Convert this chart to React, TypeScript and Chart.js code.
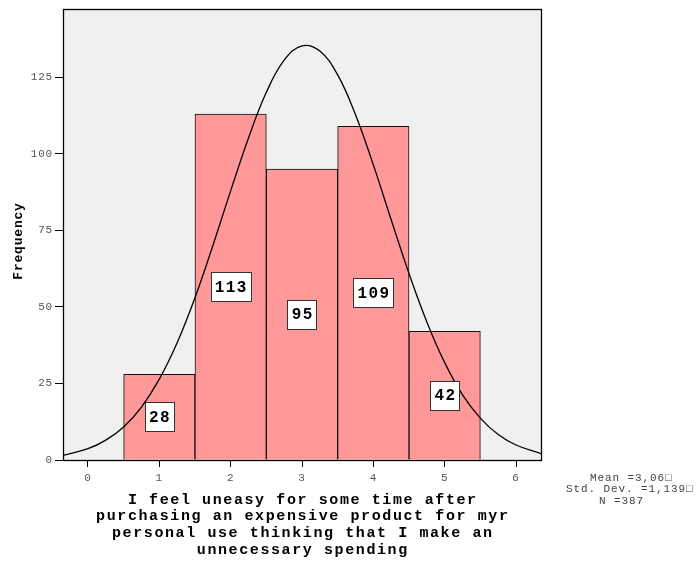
import React, { useEffect, useRef } from "react";
import { Chart, registerables } from "chart.js";

Chart.register(...registerables);

// ---- data ----
const binCenters = [1, 2, 3, 4, 5];
const frequencies = [28, 113, 95, 109, 42];

// fitted normal curve (Mean 3.06, SD 1.139, N 387)
const curveX = [-0.35, 0, 0.25, 0.5, 0.75, 1, 1.25, 1.5, 1.75, 2, 2.25, 2.5, 2.75, 3, 3.25, 3.5, 3.75, 4, 4.25, 4.5, 4.75, 5, 5.25, 5.5, 5.75, 6, 6.35];
const curveY = [1.5, 3.7, 6.5, 10.8, 17.3, 26.4, 38.3, 53.0, 70.0, 87.9, 105.2, 120.1, 130.6, 135.3, 133.6, 125.8, 112.8, 96.4, 78.5, 60.9, 45.1, 31.8, 21.3, 13.7, 8.3, 4.9, 2.1];

const xTickValues = [0, 1, 2, 3, 4, 5, 6];
const yTickValues = [0, 25, 50, 75, 100, 125];

const xTitleLines = [
  "I feel uneasy for some time after",
  "purchasing an expensive product for myr",
  "personal use thinking that I make an",
  "unnecessary spending",
];
const yTitle = "Frequency";
const statsLines = ["Mean =3,06\u25A1", "Std. Dev. =1,139\u25A1", "N =387"];

const MONO = '"Liberation Mono", "Courier New", monospace';

const decor = {
  id: "decor",
  beforeDraw(chart: any) {
    const { ctx, chartArea: a } = chart;
    ctx.save();
    ctx.fillStyle = "#ffffff";
    ctx.fillRect(0, 0, chart.width, chart.height);
    ctx.fillStyle = "#f0f0f0";
    ctx.fillRect(a.left, a.top, a.right - a.left, a.bottom - a.top);
    ctx.restore();
    ctx.letterSpacing = "0.8px";
  },
  afterDatasetsDraw(chart: any) {
    const { ctx } = chart;
    const meta = chart.getDatasetMeta(1);
    ctx.save();
    ctx.font = `bold 16px ${MONO}`;
    ctx.letterSpacing = "1.4px";
    ctx.textAlign = "center";
    ctx.textBaseline = "middle";
    meta.data.forEach((bar: any, i: number) => {
      const txt = String(frequencies[i]);
      const w = ctx.measureText(txt).width + 7;
      const h = 29;
      const cx = bar.x;
      const cy = (bar.y + bar.base) / 2;
      const x0 = Math.round(cx - w / 2) + 0.5;
      const y0 = Math.round(cy - h / 2) + 0.5;
      ctx.fillStyle = "#ffffff";
      ctx.fillRect(x0, y0, Math.round(w), h);
      ctx.strokeStyle = "#333333";
      ctx.lineWidth = 1;
      ctx.strokeRect(x0, y0, Math.round(w), h);
      ctx.fillStyle = "#000000";
      ctx.fillText(txt, cx + 0.7, cy + 1);
    });
    ctx.restore();
  },
  afterDraw(chart: any) {
    const { ctx, chartArea: a } = chart;
    ctx.save();
    // plot frame
    ctx.strokeStyle = "#000000";
    ctx.lineWidth = 1.3;
    ctx.strokeRect(Math.round(a.left) + 0.5, Math.round(a.top) - 0.5, Math.round(a.right - a.left), Math.round(a.bottom - a.top) + 1);

    // x axis title
    const cx = (a.left + a.right) / 2;
    ctx.fillStyle = "#000000";
    ctx.font = `bold 15px ${MONO}`;
    ctx.letterSpacing = "1.6px";
    ctx.textAlign = "center";
    ctx.textBaseline = "middle";
    xTitleLines.forEach((line, i) => {
      ctx.fillText(line, cx + 0.8, 500 + i * 16.6);
    });

    // y axis title
    ctx.save();
    ctx.translate(19, (a.top + a.bottom) / 2 + 6);
    ctx.rotate(-Math.PI / 2);
    ctx.font = `bold 13px ${MONO}`;
    ctx.letterSpacing = "0.8px";
    ctx.fillText(yTitle, 0, 0);
    ctx.restore();

    // stats
    ctx.font = `11px ${MONO}`;
    ctx.letterSpacing = "0.9px";
    ctx.fillStyle = "#444444";
    ctx.textAlign = "left";
    const xs = [590, 566, 599];
    const ys = [478, 489.5, 501];
    statsLines.forEach((line, i) => ctx.fillText(line, xs[i], ys[i]));
    ctx.restore();
  },
};

export default function App() {
  const ref = useRef<HTMLCanvasElement | null>(null);

  useEffect(() => {
    document.body.style.margin = "0";
    const canvas = ref.current;
    if (!canvas) return;
    const chart = new Chart(canvas, {
      type: "bar",
      data: {
        datasets: [
          {
            type: "line",
            data: curveX.map((x, i) => ({ x, y: curveY[i] })),
            borderColor: "#000000",
            borderWidth: 1.3,
            pointRadius: 0,
            tension: 0.4,
            fill: false,
            order: 0,
          } as any,
          {
            type: "bar",
            data: binCenters.map((x, i) => ({ x, y: frequencies[i] })),
            backgroundColor: "#ff9999",
            borderColor: "#111111",
            borderWidth: 1,
            barPercentage: 1,
            categoryPercentage: 1,
            order: 1,
          } as any,
        ],
      },
      options: {
        responsive: false,
        animation: false,
        devicePixelRatio: 1,
        layout: { padding: { left: 0, top: 10, right: 156, bottom: 0 } },
        plugins: { legend: { display: false }, tooltip: { enabled: false } },
        scales: {
          x: {
            type: "linear",
            min: -0.35,
            max: 6.35,
            offset: false,
            afterFit: (s: any) => {
              s.height = 103;
            },
            afterBuildTicks: (s: any) => {
              s.ticks = xTickValues.map((v) => ({ value: v }));
            },
            grid: { drawOnChartArea: false, drawTicks: true, tickLength: 7, color: "#000000", offset: false },
            border: { display: false },
            ticks: {
              padding: 4,
              color: "#555555",
              font: { family: MONO, size: 11 },
              maxRotation: 0,
              autoSkip: false,
            },
          },
          y: {
            type: "linear",
            min: 0,
            max: 147,
            afterFit: (s: any) => {
              s.width = 63;
            },
            afterBuildTicks: (s: any) => {
              s.ticks = yTickValues.map((v) => ({ value: v }));
            },
            grid: { drawOnChartArea: false, drawTicks: true, tickLength: 8, color: "#000000" },
            border: { display: false },
            ticks: {
              padding: 2,
              color: "#555555",
              font: { family: MONO, size: 11 },
              autoSkip: false,
            },
          },
        },
      },
      plugins: [decor],
    } as any);
    return () => chart.destroy();
  }, []);

  return (
    <canvas
      ref={ref}
      width={697}
      height={563}
      style={{ position: "absolute", left: 0, top: 0, width: 697, height: 563 }}
    />
  );
}
